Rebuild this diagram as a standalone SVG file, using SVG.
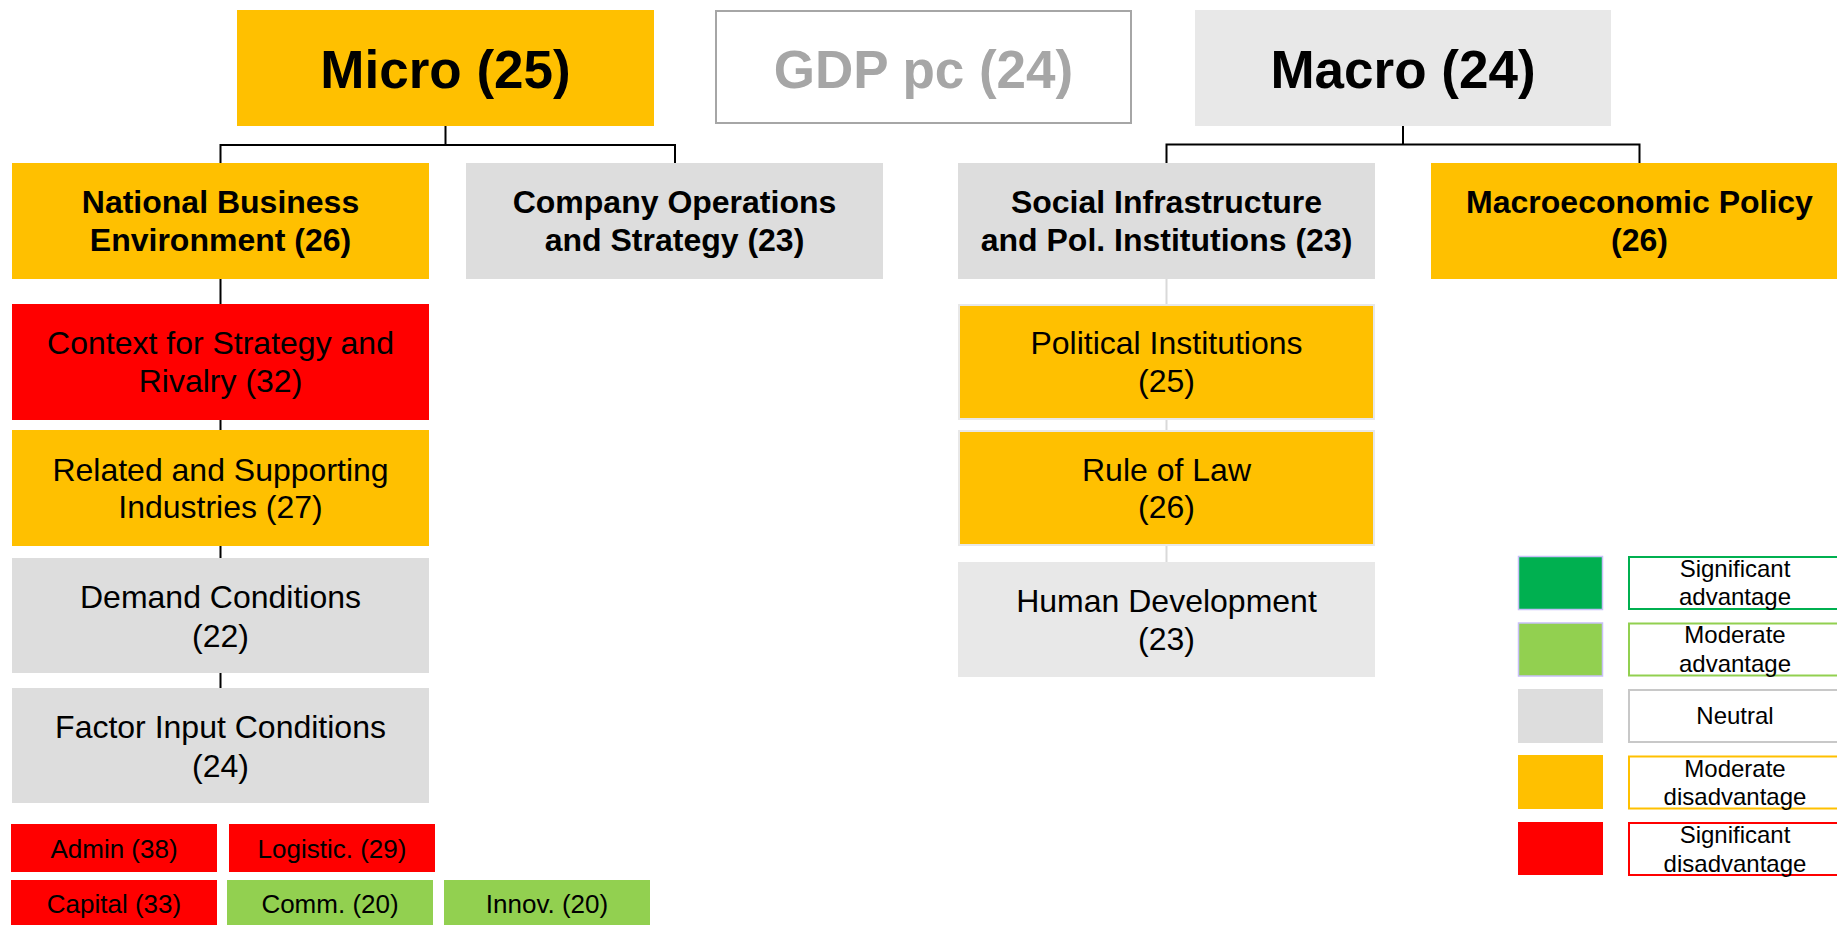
<svg xmlns="http://www.w3.org/2000/svg" width="1837" height="925" viewBox="0 0 1837 925">
<style>
text{font-family:"Liberation Sans",Arial,sans-serif;text-anchor:middle;fill:#000}
.big{font-size:53px;font-weight:bold}
.hd{font-size:32px;font-weight:bold}
.rg{font-size:32px}
.sm{font-size:26px}
.lg{font-size:24px}
.yel{fill:#FFC000}
.red{fill:#FF0000}
.grn{fill:#92D050}
.gry{fill:#DDDDDD}
.lgy{fill:#E8E8E8}
.conn{stroke:#000;stroke-width:2;fill:none}
.connl{stroke:#D9D9D9;stroke-width:2;fill:none}
</style>
<rect width="1837" height="925" fill="#fff"/>
<g id="connectors">
<path class="conn" d="M445.5 126V145M220.5 163V145H675V163"/>
<path class="conn" d="M1403 126V144.5M1166.5 163V144.5H1639.5V163"/>
<path class="conn" d="M220.5 279V688"/>
<path class="connl" d="M1166.5 279V562"/>
</g>
<g id="micro"><rect class="yel" x="237" y="10" width="417" height="116"/><text class="big" x="445.5" y="88">Micro (25)</text></g>
<g id="gdp"><rect x="716" y="11" width="415" height="112" fill="#fff" stroke="#A6A6A6" stroke-width="2"/><text class="big" x="923.5" y="88" style="fill:#A6A6A6">GDP pc (24)</text></g>
<g id="macro"><rect class="lgy" x="1195" y="10" width="416" height="116"/><text class="big" x="1403" y="88">Macro (24)</text></g>
<g id="nbe"><rect class="yel" x="12" y="163" width="417" height="116"/><text class="hd" x="220.5" y="212.7">National Business</text><text class="hd" x="220.5" y="250.7">Environment (26)</text></g>
<g id="company"><rect class="gry" x="466" y="163" width="417" height="116"/><text class="hd" x="674.5" y="212.7">Company Operations</text><text class="hd" x="674.5" y="250.7">and Strategy (23)</text></g>
<g id="social"><rect class="gry" x="958" y="163" width="417" height="116"/><text class="hd" x="1166.5" y="212.7">Social Infrastructure</text><text class="hd" x="1166.5" y="250.7">and Pol. Institutions (23)</text></g>
<g id="macropolicy"><rect class="yel" x="1431" y="163" width="417" height="116"/><text class="hd" x="1639.5" y="212.7">Macroeconomic Policy</text><text class="hd" x="1639.5" y="250.7">(26)</text></g>
<g id="context"><rect class="red" x="12" y="304" width="417" height="116"/><text class="rg" x="220.5" y="354">Context for Strategy and</text><text class="rg" x="220.5" y="391.7">Rivalry (32)</text></g>
<g id="related"><rect class="yel" x="12" y="430" width="417" height="116"/><text class="rg" x="220.5" y="481">Related and Supporting</text><text class="rg" x="220.5" y="518.3">Industries (27)</text></g>
<g id="demand"><rect class="gry" x="12" y="558" width="417" height="115"/><text class="rg" x="220.5" y="608.3">Demand Conditions</text><text class="rg" x="220.5" y="646.7">(22)</text></g>
<g id="factor"><rect class="gry" x="12" y="688" width="417" height="115"/><text class="rg" x="220.5" y="738.3">Factor Input Conditions</text><text class="rg" x="220.5" y="777.3">(24)</text></g>
<g id="admin"><rect class="red" x="11" y="824" width="206" height="48"/><text class="sm" x="114" y="858.3">Admin (38)</text></g>
<g id="logistic"><rect class="red" x="229" y="824" width="206" height="48"/><text class="sm" x="332" y="858.3">Logistic. (29)</text></g>
<g id="capital"><rect class="red" x="11" y="880" width="206" height="45"/><text class="sm" x="114" y="913.3">Capital (33)</text></g>
<g id="comm"><rect class="grn" x="227" y="880" width="206" height="45"/><text class="sm" x="330" y="913.3">Comm. (20)</text></g>
<g id="innov"><rect class="grn" x="444" y="880" width="206" height="45"/><text class="sm" x="547" y="913.3">Innov. (20)</text></g>
<g id="political"><rect class="yel" x="959" y="305" width="415" height="114" stroke="#E8E8E8" stroke-width="2"/><text class="rg" x="1166.5" y="354">Political Institutions</text><text class="rg" x="1166.5" y="391.7">(25)</text></g>
<g id="ruleoflaw"><rect class="yel" x="959" y="431" width="415" height="114" stroke="#E8E8E8" stroke-width="2"/><text class="rg" x="1166.5" y="480.7">Rule of Law</text><text class="rg" x="1166.5" y="518.3">(26)</text></g>
<g id="human"><rect class="lgy" x="958" y="562" width="417" height="115"/><text class="rg" x="1166.5" y="611.7">Human Development</text><text class="rg" x="1166.5" y="650">(23)</text></g>
<g id="legend">
<rect x="1518.5" y="556.5" width="84" height="53" fill="#00B050" stroke="#C8C0F8" stroke-width="1.5"/>
<rect x="1629" y="557" width="220" height="52" fill="#fff" stroke="#00B050" stroke-width="2"/>
<text class="lg" x="1735" y="577.3">Significant</text><text class="lg" x="1735" y="605.3">advantage</text>
<rect x="1518.5" y="623" width="84" height="53" fill="#92D050" stroke="#C8C0F8" stroke-width="1.5"/>
<rect x="1629" y="623.5" width="220" height="52" fill="#fff" stroke="#92D050" stroke-width="2"/>
<text class="lg" x="1735" y="643.3">Moderate</text><text class="lg" x="1735" y="671.7">advantage</text>
<rect x="1518" y="689" width="85" height="54" fill="#DDDDDD"/>
<rect x="1629" y="690" width="220" height="52" fill="#fff" stroke="#C8C8C8" stroke-width="2"/>
<text class="lg" x="1735" y="724.3">Neutral</text>
<rect x="1518" y="755" width="85" height="54" fill="#FFC000"/>
<rect x="1629" y="756.5" width="220" height="52" fill="#fff" stroke="#FFC000" stroke-width="2"/>
<text class="lg" x="1735" y="776.7">Moderate</text><text class="lg" x="1735" y="805">disadvantage</text>
<rect x="1518" y="822" width="85" height="53" fill="#FF0000"/>
<rect x="1629" y="823" width="220" height="52" fill="#fff" stroke="#FF0000" stroke-width="2"/>
<text class="lg" x="1735" y="843.3">Significant</text><text class="lg" x="1735" y="871.7">disadvantage</text>
</g>
</svg>
